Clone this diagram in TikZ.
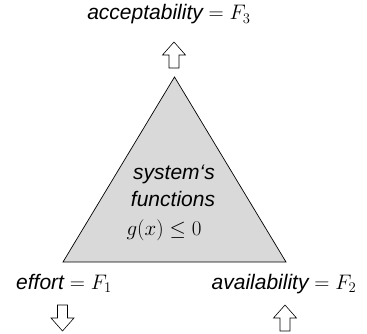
\RequirePackage{fix-cm}
\documentclass[tikz,border=0pt]{standalone}
\usepackage{fontspec}
\setmainfont{Liberation Sans}
\usetikzlibrary{positioning}
\definecolor{sysgray}{RGB}{217,217,217}

\begin{document}
\begin{tikzpicture}[x=1pt,y=-1pt,
  lbl/.style={font=\fontsize{21}{25}\selectfont\itshape,inner sep=0pt,anchor=base},
  blockup/.pic={\draw[fill=white,line width=0.6pt] (-5,13) -- (-5,0) -- (-11.5,0) -- (0,-13) -- (11.5,0) -- (5,0) -- (5,13) -- cycle;}]
  \useasboundingbox (0,0) rectangle (367,334);
  % system triangle
  \coordinate (top) at (174.5,77);
  \coordinate (bl) at (63,262);
  \coordinate (br) at (286,262);
  \draw[fill=sysgray,line width=0.7pt] (top) -- (br) -- (bl) -- cycle;
  \node[lbl] (sys) at (174,180) {system\textquoteleft s};
  \node[lbl] (fun) at (173,207) {functions};
  \node[lbl] (gx) at (164,236) {$g(x)\leq 0$};
  % objectives
  \node[lbl] (acc) at (169,20) {acceptability $=F_3$};
  \node[lbl] (eff) at (64,289) {effort $=F_1$};
  \node[lbl] (ava) at (284,289) {availability $=F_2$};
  \pic (up3) at (174,55) {blockup};
  \pic[rotate=180] (down1) at (62.5,318) {blockup};
  \pic (up2) at (285,318) {blockup};
\end{tikzpicture}
\end{document}
